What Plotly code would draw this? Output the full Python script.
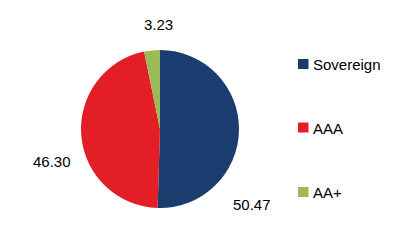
import plotly.graph_objects as go

categories = ["Sovereign", "AAA", "AA+"]
values = [50.47, 46.30, 3.23]
colors = ["#1A3C6E", "#E31E26", "#9BBB59"]

W, H = 398, 240
# label positions (pixel centers) for value labels - layout only
label_pos = [(251.5, 204), (52, 161), (158, 24.5)]
legend_y = [64, 127.5, 192]

fig = go.Figure()
cx, cy, r = 160, 129, 79
fig.add_trace(go.Pie(
    labels=categories, values=values, sort=False, direction="clockwise",
    rotation=0, marker=dict(colors=colors, line=dict(width=0)),
    textinfo="none", hoverinfo="label+value", showlegend=False,
    domain=dict(x=[(cx - r) / W, (cx + r) / W], y=[(H - cy - r) / H, (H - cy + r) / H]),
))

font = dict(family="Liberation Sans, Arial, sans-serif", size=15, color="#000000")
annotations = []
for v, (px, py) in zip(values, label_pos):
    annotations.append(dict(x=px / W, y=1 - py / H, xref="paper", yref="paper",
                            text=f"{v:.2f}", showarrow=False, font=font,
                            xanchor="center", yanchor="middle"))
shapes = []
for cat, col, ly in zip(categories, colors, legend_y):
    shapes.append(dict(type="rect", xref="paper", yref="paper",
                       x0=298 / W, x1=308.5 / W, y0=1 - (ly + 5) / H, y1=1 - (ly - 5) / H,
                       fillcolor=col, line=dict(width=0)))
    annotations.append(dict(x=311 / W, y=1 - (ly + 0.5) / H, xref="paper", yref="paper",
                            text=cat, showarrow=False, font=font,
                            xanchor="left", yanchor="middle"))

fig.update_layout(width=W, height=H, margin=dict(l=0, r=0, t=0, b=0),
                  paper_bgcolor="white", plot_bgcolor="white",
                  annotations=annotations, shapes=shapes, showlegend=False)
fig.write_html("out.html")
